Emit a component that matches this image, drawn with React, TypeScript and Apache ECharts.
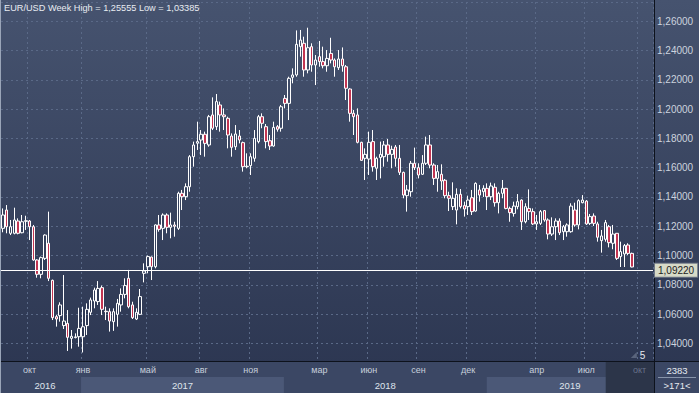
import React, { useEffect, useRef } from "react";
import * as echarts from "echarts";

// Weekly EUR/USD candles
const opens = [
  1.1186, 1.1311, 1.1152, 1.1152, 1.1236, 1.1156, 1.1234, 1.1236, 1.1197, 1.0970,
  1.0872, 1.0981, 1.1084, 1.0831, 1.0583, 1.0590, 1.0522, 1.0537, 1.0435, 1.0440,
  1.0446, 1.0446, 1.0522, 1.0613, 1.0690, 1.0686, 1.0781, 1.0620, 1.0617, 1.0549,
  1.0599, 1.0663, 1.0735, 1.0845, 1.0663, 1.0567, 1.0599, 1.0879, 1.0924, 1.0990,
  1.0924, 1.1209, 1.1186, 1.1277, 1.1193, 1.1209, 1.1186, 1.1425, 1.1402, 1.1470,
  1.1675, 1.1767, 1.1789, 1.1828, 1.1755, 1.1960, 1.1880, 1.2028, 1.1960, 1.1937,
  1.1816, 1.1743, 1.1816, 1.1771, 1.1607, 1.1614, 1.1664, 1.1778, 1.1948, 1.1880,
  1.1784, 1.1748, 1.1880, 1.1869, 1.2073, 1.2039, 1.2217, 1.2233, 1.2426, 1.2449,
  1.2267, 1.2426, 1.2301, 1.2358, 1.2324, 1.2296, 1.2380, 1.2335, 1.2283, 1.2342,
  1.2289, 1.2137, 1.1971, 1.1960, 1.1773, 1.1664, 1.1659, 1.1778, 1.1596, 1.1669,
  1.1675, 1.1755, 1.1691, 1.1741, 1.1664, 1.1568, 1.1409, 1.1436, 1.1630, 1.1600,
  1.1555, 1.1630, 1.1755, 1.1618, 1.1527, 1.1555, 1.1514, 1.1409, 1.1334, 1.1311,
  1.1418, 1.1341, 1.1334, 1.1395, 1.1304, 1.1448, 1.1436, 1.1459, 1.1402, 1.1466,
  1.1361, 1.1425, 1.1459, 1.1322, 1.1288, 1.1334, 1.1379, 1.1231, 1.1322, 1.1300,
  1.1216, 1.1220, 1.1307, 1.1243, 1.1147, 1.1197, 1.1236, 1.1163, 1.1163, 1.1163,
  1.1311, 1.1209, 1.1361, 1.1372, 1.1220, 1.1270, 1.1216, 1.1102, 1.1111, 1.1197,
  1.1084, 1.1152, 1.0993, 1.1011, 1.1072, 1.1015,
];
const closes = [
  1.1277, 1.1197, 1.1197, 1.1243, 1.1152, 1.1231, 1.1238, 1.1197, 1.0970, 1.0872,
  1.0986, 1.1140, 1.0845, 1.0576, 1.0567, 1.0663, 1.0553, 1.0442, 1.0449, 1.0445,
  1.0503, 1.0514, 1.0633, 1.0697, 1.0765, 1.0776, 1.0633, 1.0617, 1.0553, 1.0617,
  1.0674, 1.0735, 1.0795, 1.0651, 1.0576, 1.0613, 1.0720, 1.0895, 1.0993, 1.0924,
  1.1209, 1.1179, 1.1277, 1.1193, 1.1209, 1.1200, 1.1425, 1.1402, 1.1470, 1.1675,
  1.1755, 1.1778, 1.1828, 1.1766, 1.1948, 1.1869, 1.2051, 1.1960, 1.1948, 1.1823,
  1.1739, 1.1830, 1.1789, 1.1607, 1.1610, 1.1675, 1.1800, 1.1948, 1.1903, 1.1778,
  1.1748, 1.1875, 1.1862, 1.2016, 1.2039, 1.2210, 1.2233, 1.2442, 1.2471, 1.2267,
  1.2419, 1.2301, 1.2335, 1.2324, 1.2296, 1.2346, 1.2335, 1.2289, 1.2342, 1.2296,
  1.2142, 1.1971, 1.1948, 1.1773, 1.1650, 1.1691, 1.1773, 1.1607, 1.1664, 1.1691,
  1.1755, 1.1691, 1.1725, 1.1664, 1.1568, 1.1413, 1.1448, 1.1630, 1.1600, 1.1550,
  1.1630, 1.1755, 1.1618, 1.1527, 1.1573, 1.1509, 1.1409, 1.1391, 1.1391, 1.1418,
  1.1334, 1.1318, 1.1379, 1.1300, 1.1493, 1.1413, 1.1459, 1.1402, 1.1475, 1.1361,
  1.1425, 1.1459, 1.1322, 1.1293, 1.1338, 1.1368, 1.1231, 1.1334, 1.1300, 1.1216,
  1.1231, 1.1300, 1.1243, 1.1147, 1.1197, 1.1236, 1.1156, 1.1197, 1.1209, 1.1338,
  1.1209, 1.1375, 1.1379, 1.1216, 1.1266, 1.1220, 1.1125, 1.1134, 1.1225, 1.1088,
  1.1147, 1.0981, 1.1027, 1.1068, 1.1015, 1.0922,
];
const lows = [
  1.1159, 1.1152, 1.1140, 1.1145, 1.1145, 1.1152, 1.1175, 1.1106, 1.0965, 1.0849,
  1.0845, 1.0970, 1.0826, 1.0560, 1.0515, 1.0549, 1.0499, 1.0349, 1.0365, 1.0435,
  1.0378, 1.03385, 1.0458, 1.0594, 1.0640, 1.0663, 1.0594, 1.0560, 1.0481, 1.0486,
  1.0515, 1.0617, 1.0708, 1.0640, 1.0567, 1.0560, 1.0594, 1.0817, 1.0879, 1.0833,
  1.0913, 1.1163, 1.1106, 1.1152, 1.1118, 1.1129, 1.1175, 1.1311, 1.1379, 1.1436,
  1.1607, 1.1721, 1.1686, 1.1675, 1.1743, 1.1857, 1.1857, 1.1846, 1.1857, 1.1732,
  1.1675, 1.1721, 1.1766, 1.1573, 1.1596, 1.1550, 1.1641, 1.1766, 1.1869, 1.1732,
  1.1721, 1.1743, 1.1846, 1.1846, 1.2005, 1.1925, 1.2176, 1.2221, 1.2358, 1.2221,
  1.2244, 1.2255, 1.2164, 1.2289, 1.2278, 1.2255, 1.2312, 1.2221, 1.2267, 1.2255,
  1.2062, 1.1914, 1.1823, 1.1766, 1.1646, 1.1516, 1.1550, 1.1573, 1.1516, 1.1527,
  1.1607, 1.1641, 1.1596, 1.1607, 1.1550, 1.1391, 1.1300, 1.1402, 1.1584, 1.1527,
  1.1550, 1.1618, 1.1596, 1.1482, 1.1436, 1.1448, 1.1391, 1.1304, 1.1311, 1.1213,
  1.1322, 1.1266, 1.1277, 1.1277, 1.1300, 1.1368, 1.1400, 1.1311, 1.1379, 1.1334,
  1.1288, 1.1391, 1.1316, 1.1231, 1.1266, 1.1316, 1.1175, 1.1220, 1.1243, 1.1209,
  1.1175, 1.1209, 1.1231, 1.1111, 1.1134, 1.1106, 1.1140, 1.1106, 1.1129, 1.1156,
  1.1197, 1.1179, 1.1357, 1.1209, 1.1209, 1.1202, 1.1095, 1.1020, 1.1095, 1.1056,
  1.1043, 1.0970, 1.0922, 1.0922, 1.1004, 1.0920,
];
const highs = [
  1.1322, 1.1345, 1.1243, 1.1327, 1.1254, 1.1277, 1.1272, 1.1243, 1.1209, 1.0975,
  1.0993, 1.1145, 1.1300, 1.0836, 1.0594, 1.0681, 1.0867, 1.0628, 1.0492, 1.0469,
  1.0644, 1.0651, 1.0674, 1.0713, 1.0781, 1.0826, 1.0795, 1.0651, 1.0640, 1.0640,
  1.0704, 1.0776, 1.0845, 1.0902, 1.0685, 1.0640, 1.0772, 1.0947, 1.1000, 1.0993,
  1.1213, 1.1277, 1.1288, 1.1288, 1.1293, 1.1231, 1.1436, 1.1448, 1.1493, 1.1686,
  1.1778, 1.1914, 1.1857, 1.1846, 1.1960, 1.2080, 1.2103, 1.2051, 1.2005, 1.1948,
  1.1834, 1.1891, 1.1857, 1.1778, 1.1698, 1.1698, 1.1857, 1.1960, 1.1971, 1.1898,
  1.1823, 1.1914, 1.1891, 1.2028, 1.2096, 1.2221, 1.2278, 1.2537, 1.2540, 1.2494,
  1.25555, 1.2449, 1.2369, 1.2465, 1.2426, 1.2403, 1.2487, 1.2346, 1.2403, 1.2421,
  1.2301, 1.2142, 1.1994, 1.2005, 1.1777, 1.1732, 1.1846, 1.1857, 1.1675, 1.1778,
  1.1782, 1.1796, 1.1750, 1.1755, 1.1755, 1.1573, 1.1482, 1.1646, 1.1737, 1.1630,
  1.1686, 1.1812, 1.1823, 1.1630, 1.1618, 1.1623, 1.1523, 1.1436, 1.1500, 1.1459,
  1.1454, 1.1368, 1.1409, 1.1448, 1.1500, 1.1482, 1.1480, 1.1493, 1.1498, 1.1493,
  1.1436, 1.1516, 1.1462, 1.1334, 1.1368, 1.1420, 1.1384, 1.1357, 1.1452, 1.1322,
  1.1277, 1.1311, 1.1311, 1.1254, 1.1261, 1.1254, 1.1254, 1.1209, 1.1220, 1.1357,
  1.1361, 1.1384, 1.1413, 1.1379, 1.1284, 1.1288, 1.1231, 1.1175, 1.1243, 1.1209,
  1.1209, 1.1152, 1.1095, 1.1079, 1.1084, 1.1020,
];

const TOTAL_SLOTS = 171; // 166 bars + 5 empty bars of right shift
const SHIFT = 5;
const BAR_COUNT_LABEL = "2383";
const START_MS = Date.UTC(2016, 7, 15);
const weeks = Array.from({ length: TOTAL_SLOTS }, (_, i) =>
  new Date(START_MS + i * 7 * 86400000).toISOString().slice(0, 10)
);

const monthTickIdx = [7, 21, 38, 52, 65, 83, 96, 109, 122, 140, 153, 167];
const monthTickLabels = ["окт", "янв", "май", "авг", "ноя", "мар", "июн", "сен", "дек", "апр", "июл", "окт"];
const yearLabels = ["2016", "2017", "2018", "2019"];
const yearBounds = [0, 21, 74.2, 127.4, 171];
const futureFrom = 158.6;

const LAST_PRICE = 1.0922;
const HIGH = 1.25555;
const LOW = 1.03385;

const FONT = '"Liberation Sans", Arial, sans-serif';
const fmt = (v: number) => v.toFixed(5).replace(".", ",");

export default function App() {
  const ref = useRef<HTMLDivElement>(null);
  useEffect(() => {
    if (!ref.current) return;
    const chart = echarts.init(ref.current, undefined, { renderer: "svg" });
    const monthSet = new Set(monthTickIdx);
    chart.setOption({
      animation: false,
      backgroundColor: new echarts.graphic.LinearGradient(0, 0, 0, 1, [
        { offset: 0, color: "#46536f" },
        { offset: 1, color: "#2b3550" },
      ]),
      title: {
        text: `EUR/USD Week High = ${fmt(HIGH)} Low = ${fmt(LOW)}`,
        left: 4,
        top: 3,
        padding: 0,
        textStyle: { color: "#e8ecf2", fontSize: 9.2, fontWeight: "normal", fontFamily: FONT },
      },
      grid: { left: 1, right: 46, top: 2, bottom: 20.23 },
      xAxis: {
        type: "category",
        data: weeks,
        boundaryGap: true,
        axisLine: { show: false },
        axisTick: { show: false },
        axisLabel: { show: false },
        splitLine: {
          show: true,
          interval: (index: number) => monthSet.has(index),
          lineStyle: { color: "#5a6987", type: [2, 3], width: 1 },
        },
      },
      yAxis: {
        type: "value",
        position: "right",
        min: 1.02,
        max: 1.2731,
        interval: 0.02,
        scale: true,
        axisLine: { show: false },
        axisTick: { show: false },
        axisLabel: {
          showMinLabel: false,
          showMaxLabel: false,
          margin: 4,
          color: "#ccd3de",
          fontSize: 10,
          fontFamily: FONT,
          formatter: (v: number) => fmt(v),
        },
        splitLine: { show: true, lineStyle: { color: "#5a6987", type: [2, 3], width: 1 } },
      },
      series: [
        {
          type: "candlestick",
          barWidth: 3,
          data: opens.map((o, i) => [o, closes[i], lows[i], highs[i]]),
          itemStyle: {
            color: "rgba(0,0,0,0)",
            color0: "#c23552",
            borderColor: "#ffffff",
            borderColor0: "#ffffff",
            borderWidth: 1,
          },
          markLine: {
            silent: true,
            symbol: ["none", "none"],
            data: [{ yAxis: LAST_PRICE }],
            lineStyle: { color: "#ffffff", width: 1, type: "solid" },
            label: {
              show: true,
              position: "end",
              distance: 2,
              formatter: fmt(LAST_PRICE),
              color: "#222222",
              backgroundColor: "#d7dac7",
              borderColor: "#6f7787",
              borderWidth: 1,
              padding: [2, 3, 1, 3],
              fontSize: 10,
              fontFamily: FONT,
            },
          },
        },
      ],
    });

    const p0 = chart.convertToPixel({ xAxisIndex: 0 }, 0) as number;
    const p1 = chart.convertToPixel({ xAxisIndex: 0 }, 1) as number;
    const slot = p1 - p0;
    const edge = (b: number) => p0 - slot / 2 + b * slot;
    const center = (i: number) => p0 + i * slot;
    const plotRight = edge(TOTAL_SLOTS);

    const txt = (text: string, x: number, y: number, fill: string, size: number, z = 110) => ({
      type: "text",
      x,
      y,
      z,
      silent: true,
      style: {
        text,
        fill,
        font: `${size}px ${FONT}`,
        align: "center",
        verticalAlign: "middle",
        textAlign: "center",
        textVerticalAlign: "middle",
      },
    });

    const graphics: any[] = [];
    // bottom time panel
    graphics.push({ type: "rect", z: 100, silent: true, shape: { x: 0, y: 362, width: plotRight + 2, height: 31 }, style: { fill: "#3b4764" } });
    yearLabels.forEach((lab, k) => {
      const x0 = edge(yearBounds[k]);
      const x1 = edge(yearBounds[k + 1]);
      if (k % 2 === 1) {
        graphics.push({ type: "rect", z: 101, silent: true, shape: { x: x0, y: 377, width: x1 - x0, height: 16 }, style: { fill: "#4b5877" } });
      }
    });
    graphics.push({
      type: "rect", z: 102, silent: true,
      shape: { x: edge(futureFrom), y: 362, width: plotRight - edge(futureFrom) + 1, height: 31 },
      style: { fill: "#2c3549" },
    });
    monthTickIdx.forEach((idx, k) => {
      const last = k === monthTickIdx.length - 1;
      graphics.push(txt(monthTickLabels[k], center(idx), 370, last ? "#68728a" : "#c7cfdb", 9));
    });
    yearLabels.forEach((lab, k) => {
      const cx = (edge(yearBounds[k]) + edge(yearBounds[k + 1])) / 2;
      graphics.push(txt(lab, cx + (k === 0 ? 4 : 0), 385, "#dfe4ec", 9.5));
    });
    // right-bottom cell
    graphics.push({ type: "rect", z: 100, silent: true, shape: { x: plotRight + 1, y: 362, width: 699 - plotRight, height: 31 }, style: { fill: "#3b4764" } });
    graphics.push(txt(BAR_COUNT_LABEL, (plotRight + 699) / 2 + 1, 370, "#e6eaf0", 9.5));
    graphics.push({ type: "line", z: 110, silent: true, shape: { x1: plotRight + 5, y1: 377.5, x2: 696, y2: 377.5 }, style: { stroke: "#8794aa", lineWidth: 1 } });
    graphics.push(txt(`>${TOTAL_SLOTS}<`, (plotRight + 699) / 2 + 1, 385, "#e6eaf0", 9.5));
    // separators
    graphics.push({ type: "line", z: 1, silent: true, shape: { x1: plotRight + 1.5, y1: 0, x2: plotRight + 1.5, y2: 362 }, style: { stroke: "#0d121c", lineWidth: 1 } });
    graphics.push({ type: "line", z: 111, silent: true, shape: { x1: plotRight + 1.5, y1: 361, x2: plotRight + 1.5, y2: 393 }, style: { stroke: "#0d121c", lineWidth: 1 } });
    graphics.push({ type: "line", z: 111, silent: true, shape: { x1: 0, y1: 361.5, x2: 699, y2: 361.5 }, style: { stroke: "#0d121c", lineWidth: 1 } });
    graphics.push({ type: "line", z: 111, silent: true, shape: { x1: 0.5, y1: 0, x2: 0.5, y2: 393 }, style: { stroke: "#9aa5b8", lineWidth: 1 } });
    // shift marker
    graphics.push({
      type: "polygon", z: 110, silent: true,
      shape: { points: [[center(TOTAL_SLOTS - SHIFT) - 5, 358], [center(TOTAL_SLOTS - SHIFT) + 1, 358], [center(TOTAL_SLOTS - SHIFT) + 1, 352]] },
      style: { fill: "#59647c" },
    });
    graphics.push(txt(String(SHIFT), center(TOTAL_SLOTS - SHIFT + 2) - 1, 355, "#e6eaf0", 10));

    chart.setOption({ graphic: graphics });
    return () => chart.dispose();
  }, []);
  return (
    <div
      ref={ref}
      style={{ position: "absolute", left: 0, top: 0, width: 699, height: 393 }}
    />
  );
}
